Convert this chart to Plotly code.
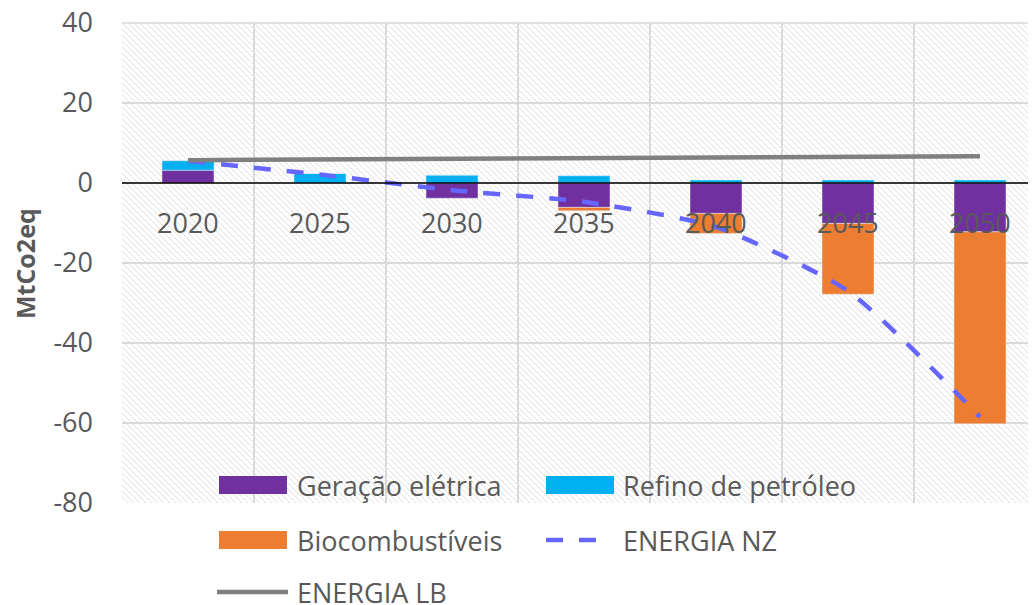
import base64
import plotly.graph_objects as go

# data (MtCo2eq)
anos = ["2020", "2025", "2030", "2035", "2040", "2045", "2050"]
geracao_eletrica = [3.2, 0.0, -3.8, -6.1, -7.6, -10.1, -12.2]
refino_petroleo = [2.4, 2.4, 2.0, 1.8, 0.75, 0.75, 0.75]
biocombustiveis = [0.0, 0.0, 0.0, -0.85, -5.0, -17.7, -48.0]
energia_nz = [5.5, 2.1, -1.8, -4.7, -11.0, -27.0, -58.5]
energia_lb = [5.7, 5.9, 6.1, 6.3, 6.4, 6.6, 6.7]
y_ticks = [40, 20, 0, -20, -40, -60, -80]
y_labels = ["40", "20", "0", "-20", "-40", "-60", "-80"]

# the page body has an 8px margin, so the figure is a bit smaller and shifted
OFF = 8
W, H = 1036 - OFF, 605 - OFF
L, T = 122 - OFF, 23 - OFF
PB = 503 - OFF  # plot bottom inside the figure
B = H - PB
PW, PH = W - L, PB - T
CAT = 132  # px per category

ROXO = "#7030A0"
CIANO = "#00B0F0"
LARANJA = "#ED7D31"
AZUL = "#6666FF"
CINZA = "#808080"
TXT = "#595959"
GRADE = "#D9D9D9"
FONT = "Open Sans"

x = list(range(len(anos)))

fig = go.Figure()
fig.add_trace(go.Bar(x=x, y=geracao_eletrica, name="Geração elétrica",
                     marker_color=ROXO, width=0.394))
fig.add_trace(go.Bar(x=x, y=refino_petroleo, name="Refino de petróleo",
                     marker_color=CIANO, width=0.394))
fig.add_trace(go.Bar(x=x, y=biocombustiveis, name="Biocombustíveis",
                     marker_color=LARANJA, width=0.394))
fig.add_trace(go.Scatter(x=x, y=energia_nz, name="ENERGIA NZ", mode="lines",
                         line=dict(color=AZUL, width=4.5, dash="17px,16px",
                                   shape="spline", smoothing=0.6)))
fig.add_trace(go.Scatter(x=x, y=energia_lb, name="ENERGIA LB", mode="lines",
                         line=dict(color=CINZA, width=4.5)))

# hatched plot background
svg = ('<svg xmlns="http://www.w3.org/2000/svg" width="%d" height="%d">'
       '<defs><pattern id="h" width="6" height="6" patternUnits="userSpaceOnUse">'
       '<path d="M-1,5 L1,7 M0,0 L6,6 M5,-1 L7,1" stroke="#DEDEDE" stroke-width="1"/>'
       '</pattern></defs><rect width="100%%" height="100%%" fill="white"/>'
       '<rect width="100%%" height="100%%" fill="url(#h)"/></svg>') % (PW, PH)
src = "data:image/svg+xml;base64," + base64.b64encode(svg.encode()).decode()


# page pixel -> paper coordinate
def px(v):
    return (v - OFF - L) / PW


def py(v):
    return (PB - (v - OFF)) / PH


shapes = [
    # top border of the plot area (gridline at 40)
    dict(type="line", xref="paper", yref="paper", x0=0, x1=1, y0=1, y1=1,
         line=dict(color=GRADE, width=1.5), layer="below"),
    # zero axis line over the bars
    dict(type="line", xref="paper", yref="y", x0=0, x1=1, y0=0, y1=0,
         line=dict(color="black", width=1.5), layer="above"),
]
annotations = []

# year labels sit just under the zero line
for i, a in enumerate(anos):
    annotations.append(dict(x=i, y=-9.75, xref="x", yref="y", text=a, showarrow=False,
                            font=dict(family=FONT, size=27, color=TXT)))

annotations.append(dict(x=px(25), y=py(264), xref="paper", yref="paper", text="<b>MtCo2eq</b>",
                        textangle=-90, showarrow=False, xanchor="center", yanchor="middle",
                        font=dict(family=FONT, size=25, color=TXT)))

# legend drawn by hand to get the wide Excel swatches
legenda = [
    ("Geração elétrica", "box", ROXO, 219, 287, 295, 485),
    ("Refino de petróleo", "box", CIANO, 546, 614, 621, 485),
    ("Biocombustíveis", "box", LARANJA, 219, 287, 295, 540),
    ("ENERGIA NZ", "dash", AZUL, 546, 596, 621, 540),
    ("ENERGIA LB", "line", CINZA, 217, 288, 295, 592),
]
for nome, tipo, cor, sx0, sx1, tx, ty in legenda:
    if tipo == "box":
        shapes.append(dict(type="rect", xref="paper", yref="paper",
                           x0=px(sx0), x1=px(sx1), y0=py(ty - 9), y1=py(ty + 9),
                           fillcolor=cor, line=dict(width=0)))
    else:
        shapes.append(dict(type="line", xref="paper", yref="paper",
                           x0=px(sx0), x1=px(sx1), y0=py(ty), y1=py(ty),
                           line=dict(color=cor, width=4.5,
                                     dash="17px,16px" if tipo == "dash" else "solid")))
    annotations.append(dict(x=px(tx), y=py(ty), xref="paper", yref="paper", text=nome,
                            xanchor="left", yanchor="middle", showarrow=False,
                            font=dict(family=FONT, size=27, color=TXT)))

fig.update_layout(
    width=W, height=H,
    margin=dict(l=L, r=0, t=T, b=B, autoexpand=False),
    paper_bgcolor="white", plot_bgcolor="rgba(0,0,0,0)",
    barmode="relative", showlegend=False,
    images=[dict(source=src, xref="paper", yref="paper", x=0, y=1, sizex=1, sizey=1,
                 sizing="stretch", layer="below", xanchor="left", yanchor="top")],
    shapes=shapes, annotations=annotations,
)
fig.update_xaxes(range=[-0.5, -0.5 + PW / CAT], tickvals=[i - 0.5 for i in range(len(anos) + 1)],
                 showticklabels=False, showgrid=True, gridcolor=GRADE, gridwidth=1.5,
                 zeroline=False, showline=False, ticks="")
fig.update_yaxes(range=[-80, 40], tickvals=y_ticks, ticktext=y_labels, showgrid=True,
                 gridcolor=GRADE, gridwidth=1.5, zeroline=False, showline=False, ticks="",
                 ticklabelstandoff=28, ticklabeloverflow="allow",
                 tickfont=dict(family=FONT, size=27, color=TXT))

fig.write_html("out.html")
